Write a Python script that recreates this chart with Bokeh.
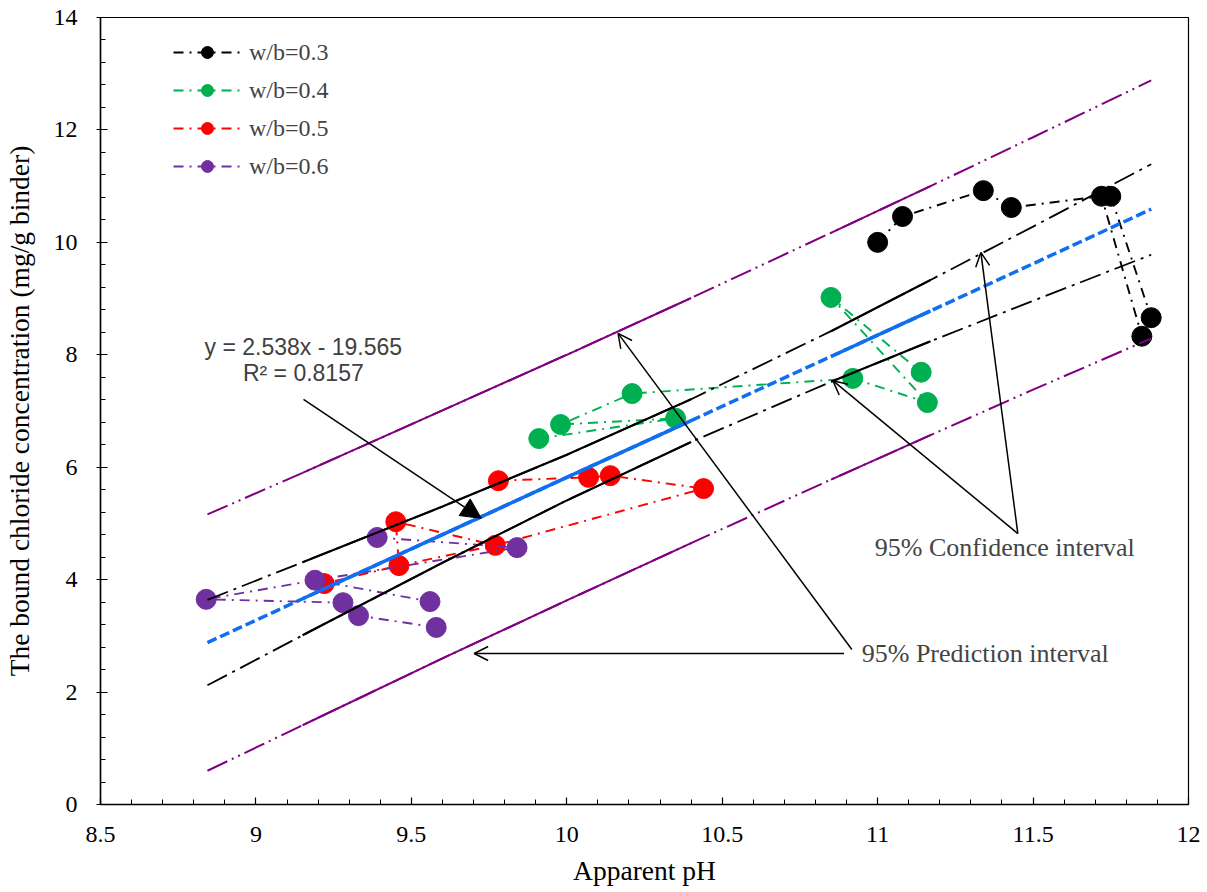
from bokeh.plotting import figure
from bokeh.models import (Range1d, SingleIntervalTicker, CustomJSTickFormatter,
                          Legend, LegendItem, Arrow, OpenHead, NormalHead, Label)
from bokeh.embed import file_html
from bokeh.resources import INLINE

# apparent pH / bound chloride (mg/g binder) for each w/b ratio
ph_03 = [11.00, 11.08, 11.34, 11.43, 11.72, 11.75, 11.88, 11.85]
cl_03 = [10.00, 10.46, 10.92, 10.62, 10.82, 10.82, 8.66, 8.33]
ph_04 = [9.91, 9.98, 10.21, 10.35, 10.85, 10.92, 11.14, 11.16]
cl_04 = [6.51, 6.76, 7.31, 6.87, 9.02, 7.58, 7.69, 7.15]
ph_05 = [9.22, 9.45, 9.46, 9.77, 9.78, 10.07, 10.14, 10.44]
cl_05 = [3.93, 5.03, 4.25, 4.61, 5.76, 5.82, 5.85, 5.62]
ph_06 = [8.84, 9.19, 9.39, 9.28, 9.33, 9.56, 9.58, 9.84]
cl_06 = [3.65, 3.99, 4.75, 3.59, 3.36, 3.61, 3.15, 4.57]

# order in which the points of each series are joined
path_03 = [[0, 1, 2, 3, 4, 7, 6, 5]]
path_04 = [[0, 3, 1, 2, 5, 7, 4, 6], [0, 1]]
path_05 = [[4, 5, 6, 7, 3, 1, 2, 0], [2, 3]]
path_06 = [[2, 7, 1, 5], [1, 0, 3, 4, 6]]

# linear fit with 95% confidence / prediction bands
fit_ph = [8.844, 9.15, 9.6, 10.0, 10.4, 10.85, 11.17, 11.5, 11.88]
fit_cl = [2.88, 3.66, 4.80, 5.82, 6.83, 7.97, 8.78, 9.62, 10.59]
conf_hi = [3.64, 4.31, 5.30, 6.22, 7.21, 8.42, 9.33, 10.28, 11.39]
conf_lo = [2.12, 3.01, 4.30, 5.41, 6.45, 7.52, 8.24, 8.96, 9.78]
pred_hi = [5.16, 5.90, 7.01, 8.00, 9.01, 10.17, 11.00, 11.87, 12.88]
pred_lo = [0.60, 1.41, 2.60, 3.63, 4.65, 5.78, 6.57, 7.38, 8.29]
solid_parts = [(1, 4), (5, 6)]  # first/last index of the parts drawn solid

labels = ["w/b=0.3", "w/b=0.4", "w/b=0.5", "w/b=0.6"]
colors = ["#000000", "#00B050", "#FF0000", "#7030A0"]

SERIF = "Liberation Serif"

p = figure(width=1200, height=892, x_range=Range1d(8.5, 12), y_range=Range1d(0, 14),
           output_backend="svg", toolbar_location=None,
           min_border_left=99, min_border_right=12, min_border_top=17, min_border_bottom=88)
p.xgrid.visible = False
p.ygrid.visible = False
p.outline_line_color = "black"
p.outline_line_width = 1.2

p.xaxis.ticker = SingleIntervalTicker(interval=0.5, num_minor_ticks=5)
p.yaxis.ticker = SingleIntervalTicker(interval=2, num_minor_ticks=5)
p.xaxis.formatter = CustomJSTickFormatter(code="return String(Math.round(tick * 10) / 10)")
for ax in (p.xaxis, p.yaxis):
    ax.axis_line_color = "black"
    ax.axis_line_width = 1.5
    ax.major_tick_in = 7
    ax.major_tick_out = 4
    ax.minor_tick_in = 5
    ax.minor_tick_out = 0
    ax.major_tick_line_width = 1.2
    ax.major_label_text_font = SERIF
    ax.major_label_text_font_size = "24px"
    ax.major_label_text_color = "black"
    ax.axis_label_text_font = SERIF
    ax.axis_label_text_font_size = "27.5px"
    ax.axis_label_text_font_style = "normal"
    ax.axis_label_text_color = "black"
p.xaxis.major_tick_out = 0
p.xaxis.major_label_standoff = 22
p.xaxis.axis_label_standoff = 10
p.yaxis.major_label_standoff = 19
p.yaxis.axis_label_standoff = 16
p.xaxis.axis_label = "Apparent pH"
p.yaxis.axis_label = "The bound chloride concentration (mg/g binder)"

# measured series
items = []
for lab, col, xs, ys, paths in zip(labels, colors, [ph_03, ph_04, ph_05, ph_06],
                                   [cl_03, cl_04, cl_05, cl_06],
                                   [path_03, path_04, path_05, path_06]):
    lr = p.multi_line([[xs[i] for i in pa] for pa in paths],
                      [[ys[i] for i in pa] for pa in paths],
                      line_color=col, line_width=1.9, line_dash="10 6 2 6")
    sr = p.scatter(xs, ys, size=20, fill_color=col, line_color=col)
    items.append(LegendItem(label=lab, renderers=[lr, sr]))

# bands: dashed over whole range, solid over the data clusters
p.line(fit_ph, pred_hi, line_color="#800080", line_width=2, line_dash="22 5 2 5 2 5")
p.line(fit_ph, pred_lo, line_color="#800080", line_width=2, line_dash="22 5 2 5 2 5")
p.line(fit_ph, conf_hi, line_color="black", line_width=1.8, line_dash="22 6 3 6")
p.line(fit_ph, conf_lo, line_color="black", line_width=1.8, line_dash="22 6 3 6")
p.line(fit_ph, fit_cl, line_color="#0F6FF0", line_width=3.5, line_dash="10 4")
for a, b in solid_parts:
    seg = fit_ph[a:b + 1]
    p.line(seg, pred_hi[a:b + 1], line_color="#800080", line_width=2)
    p.line(seg, pred_lo[a:b + 1], line_color="#800080", line_width=2)
    p.line(seg, conf_hi[a:b + 1], line_color="black", line_width=2.2)
    p.line(seg, conf_lo[a:b + 1], line_color="black", line_width=2.2)
    p.line(seg, fit_cl[a:b + 1], line_color="#0F6FF0", line_width=3.5)

legend = Legend(items=items, location=(73, 619), padding=0, spacing=0, margin=0,
                glyph_width=68, glyph_height=30, label_height=38, label_standoff=8,
                border_line_alpha=0, background_fill_alpha=0,
                label_text_font=SERIF, label_text_font_size="24px")
p.add_layout(legend)

# annotations
p.add_layout(Arrow(end=NormalHead(size=20, fill_color="black", line_color="black"),
                   x_start=9.153, y_start=7.205, x_end=9.725, y_end=5.09, line_width=1.5))
for xs0, ys0, xe, ye in [(10.892, 2.686, 9.702, 2.686), (10.917, 2.758, 10.165, 8.38),
                         (11.451, 4.82, 11.332, 9.82), (11.451, 4.82, 10.856, 7.54)]:
    p.add_layout(Arrow(end=OpenHead(size=14, line_width=1.5), x_start=xs0, y_start=ys0,
                       x_end=xe, y_end=ye, line_width=1.5))

p.add_layout(Label(x=9.1525, y=8.13, text="y = 2.538x - 19.565", text_align="center",
                   text_baseline="middle", text_font="Liberation Sans",
                   text_font_size="23px", text_color="#404040"))
p.add_layout(Label(x=9.1525, y=7.67, text="R² = 0.8157", text_align="center",
                   text_baseline="middle", text_font="Liberation Sans",
                   text_font_size="23px", text_color="#404040"))
p.add_layout(Label(x=11.409, y=4.57, text="95% Confidence interval", text_align="center",
                   text_baseline="middle", text_font=SERIF, text_font_size="26px"))
p.add_layout(Label(x=11.346, y=2.686, text="95% Prediction interval", text_align="center",
                   text_baseline="middle", text_font=SERIF, text_font_size="26px"))

open("out.html", "w").write(file_html(p, INLINE))
